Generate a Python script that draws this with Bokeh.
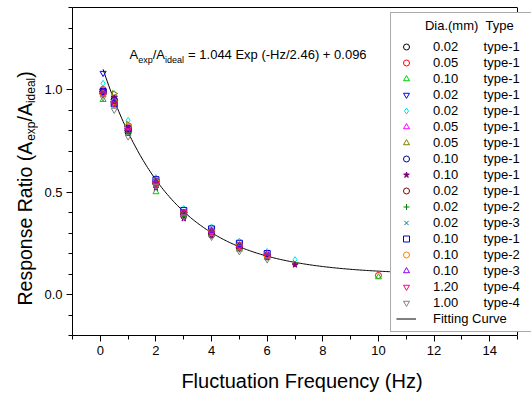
import math
import numpy as np
from bokeh.plotting import figure
from bokeh.layouts import row
from bokeh.models import (Range1d, FixedTicker, PrintfTickFormatter, Label,
                          Legend, LegendItem, LinearAxis, Span)
from bokeh.embed import file_html
from bokeh.resources import INLINE

# ---------------- data ----------------
freq = [0.1, 0.5, 1, 2, 3, 4, 5, 6]

dia = ["0.02", "0.05", "0.10", "0.02", "0.02", "0.05", "0.05", "0.10", "0.10",
       "0.02", "0.02", "0.02", "0.10", "0.10", "0.10", "1.20", "1.00"]
kind = ["type-1", "type-1", "type-1", "type-1", "type-1", "type-1", "type-1",
        "type-1", "type-1", "type-1", "type-2", "type-3", "type-1", "type-2",
        "type-3", "type-4", "type-4"]

s1_x = freq
s1_y = [0.99, 0.95, 0.79, 0.54, 0.39, 0.29, 0.23, 0.19]
s2_x = freq + [10]
s2_y = [1.00, 0.94, 0.80, 0.55, 0.40, 0.30, 0.24, 0.19, 0.093]
s3_x = freq + [10]
s3_y = [0.95, 0.93, 0.80, 0.50, 0.40, 0.30, 0.22, 0.18, 0.085]
s4_x = freq
s4_y = [1.08, 0.96, 0.81, 0.55, 0.40, 0.31, 0.24, 0.19]
s5_x = freq + [7]
s5_y = [1.03, 0.98, 0.85, 0.57, 0.42, 0.33, 0.26, 0.21, 0.17]
s6_x = freq
s6_y = [0.98, 0.94, 0.82, 0.55, 0.38, 0.30, 0.24, 0.19]
s7_x = freq + [7]
s7_y = [1.00, 0.98, 0.83, 0.56, 0.40, 0.31, 0.24, 0.19, 0.15]
s8_x = freq
s8_y = [0.99, 0.95, 0.81, 0.55, 0.40, 0.31, 0.24, 0.19]
s9_x = freq + [7]
s9_y = [0.99, 0.96, 0.81, 0.52, 0.37, 0.29, 0.23, 0.18, 0.145]
s10_x = freq
s10_y = [0.98, 0.94, 0.80, 0.54, 0.39, 0.30, 0.23, 0.19]
s11_x = freq
s11_y = [0.97, 0.93, 0.79, 0.53, 0.38, 0.29, 0.22, 0.18]
s12_x = freq
s12_y = [0.99, 0.95, 0.80, 0.55, 0.40, 0.31, 0.24, 0.19]
s13_x = freq
s13_y = [0.99, 0.93, 0.81, 0.56, 0.41, 0.32, 0.25, 0.20]
s14_x = freq
s14_y = [0.98, 0.94, 0.82, 0.55, 0.40, 0.31, 0.24, 0.19]
s15_x = freq
s15_y = [0.99, 0.94, 0.81, 0.55, 0.40, 0.31, 0.24, 0.20]
s16_x = freq
s16_y = [0.98, 0.93, 0.80, 0.54, 0.40, 0.30, 0.23, 0.19]
s17_x = freq
s17_y = [0.96, 0.90, 0.77, 0.53, 0.38, 0.28, 0.21, 0.17]

series_x = [s1_x, s2_x, s3_x, s4_x, s5_x, s6_x, s7_x, s8_x, s9_x, s10_x,
            s11_x, s12_x, s13_x, s14_x, s15_x, s16_x, s17_x]
series_y = [s1_y, s2_y, s3_y, s4_y, s5_y, s6_y, s7_y, s8_y, s9_y, s10_y,
            s11_y, s12_y, s13_y, s14_y, s15_y, s16_y, s17_y]

# fitted curve parameters (from the chart's equation)
fit_a, fit_tau, fit_c = 1.044, 2.46, 0.096

x_min, x_max = -1, 15
y_min, y_max = -0.2, 1.4
x_ticks = [0, 2, 4, 6, 8, 10, 12, 14]
x_minor = [-1, 1, 3, 5, 7, 9, 11, 13, 15]
y_ticks = [0.0, 0.5, 1.0]
y_minor = [-0.2, -0.1, 0.1, 0.2, 0.3, 0.4, 0.6, 0.7, 0.8, 0.9, 1.1, 1.2, 1.3, 1.4]

# ---------------- styles / layout ----------------
colors = ["#000000", "#ff0000", "#00cc00", "#0000ff", "#00e5e5", "#ff00ff",
          "#808000", "#000080", "#800080", "#800000", "#008000", "#008080",
          "#0000cc", "#ff8000", "#8000ff", "#ff0080", "#808080"]
markers = ["circle", "circle", "triangle", "inverted_triangle", "diamond",
           "triangle", "triangle", "circle", "star", "circle", "cross", "x",
           "square", "circle", "triangle", "inverted_triangle", "inverted_triangle"]
angles = [0, 0, 0, 0, 0, math.pi / 2, -math.pi / 2, 0, 0, 0, 0, 0, 0, 0, 0, 0, 0]
filled = [False] * 8 + [True] + [False] * 8

FONT = "Liberation Sans"
NB = "\u00a0"
LABEL_W = 38
MID = 0.3465  # baseline offset from text-box middle, in em (Liberation Sans)

AXES_W = 445          # pixel width of the -1..15 box
EXTRA_R = 14          # room to the right of the box, where the legend runs on
px_per_x = AXES_W / (x_max - x_min)
x_view_max = x_max + EXTRA_R / px_per_x

p = figure(frame_width=AXES_W + EXTRA_R, frame_height=328, output_backend="svg",
           toolbar_location=None, x_range=Range1d(x_min, x_view_max),
           y_range=Range1d(y_min, y_max),
           min_border_left=72 - LABEL_W, min_border_right=0, min_border_top=7,
           min_border_bottom=59)
p.xgrid.visible = False
p.ygrid.visible = False
p.outline_line_color = None
p.background_fill_color = "white"
p.border_fill_color = "white"

for ax in (p.xaxis[0], p.yaxis[0]):
    ax.axis_line_color = "black"
    ax.major_tick_line_color = "black"
    ax.minor_tick_line_color = "black"
    ax.major_tick_in = 0
    ax.major_tick_out = 6
    ax.minor_tick_in = 0
    ax.minor_tick_out = 4
    ax.major_label_text_font = FONT
    ax.major_label_text_font_size = "13px"
    ax.major_label_text_color = "black"
    ax.major_label_standoff = 4

p.xaxis.bounds = (x_min, x_max)
p.yaxis.axis_label_standoff = 0
p.xaxis.ticker = FixedTicker(ticks=x_ticks, minor_ticks=x_minor)
p.yaxis.ticker = FixedTicker(ticks=y_ticks, minor_ticks=y_minor)
p.yaxis.formatter = PrintfTickFormatter(format="%.1f")
p.xaxis.axis_label = "Fluctuation Frequency (Hz)"
p.xaxis.axis_label_text_font = FONT
p.xaxis.axis_label_text_font_size = "20px"
p.xaxis.axis_label_text_font_style = "normal"
p.xaxis.axis_label_text_color = "black"
p.xaxis.axis_label_standoff = 12

# top and right borders of the box
top_axis = LinearAxis(bounds=(x_min, x_max), ticker=FixedTicker(ticks=[], minor_ticks=[]),
                      major_tick_out=0, major_tick_in=0, minor_tick_out=0, minor_tick_in=0,
                      major_label_standoff=0, axis_line_color="black")
p.add_layout(top_axis, "above")
p.add_layout(Span(location=x_max, dimension="height", line_color="black", line_width=1))

# fitting curve
xc = np.linspace(0.1, x_view_max, 300)
yc = fit_a * np.exp(-xc / fit_tau) + fit_c
curve = p.line(xc, yc, line_color="black", line_width=1)

items = []
for i in range(len(series_x)):
    r = p.scatter(series_x[i], series_y[i], marker=markers[i], size=6,
                  angle=angles[i], line_color=colors[i], line_width=1,
                  fill_color=colors[i] if filled[i] else None)
    label = dia[i] + NB * 7 + kind[i] + NB * 3
    items.append(LegendItem(label=label, renderers=[r]))
items.append(LegendItem(label="Fitting Curve", renderers=[curve]))

legend = Legend(items=items, location=(318, 3),
                title=NB * 8 + "Dia.(mm)" + NB * 2 + "Type",
                title_text_font=FONT, title_text_font_size="13px",
                title_text_font_style="normal", title_text_color="black",
                title_standoff=6,
                label_text_font=FONT, label_text_font_size="13px",
                label_text_color="black", label_standoff=17,
                glyph_width=20, glyph_height=15, label_height=15, spacing=1,
                padding=5, margin=0,
                border_line_color="#555555", border_line_width=1,
                background_fill_color="white", background_fill_alpha=1.0)
p.add_layout(legend)


def lab(fig, txt, x, y, size, angle=0.0):
    fig.add_layout(Label(x=x, y=y, x_units="screen", y_units="screen", text=txt,
                         text_font=FONT, text_font_size="%gpx" % size,
                         text_color="black", text_baseline="middle",
                         text_align="left", angle=angle))


# equation annotation (screen units relative to the frame)
ex = 57
eb = 276
lab(p, "A", ex, eb + MID * 13, 13)
lab(p, "exp", ex + 8.7, eb - 4 + MID * 9, 9)
lab(p, "/A", ex + 23.2, eb + MID * 13, 13)
lab(p, "ideal", ex + 35.5, eb - 4 + MID * 9, 9)
lab(p, "= 1.044 Exp (-Hz/2.46) + 0.096", ex + 58.6, eb + MID * 13, 13)

# y axis title with subscripts, in a narrow side figure
q = figure(width=LABEL_W, height=394, output_backend="svg", toolbar_location=None,
           x_range=Range1d(0, 1), y_range=Range1d(0, 1),
           x_axis_type=None, y_axis_type=None, min_border=0, title=None)
q.xgrid.visible = False
q.ygrid.visible = False
q.outline_line_color = None
q.background_fill_color = "white"
q.border_fill_color = "white"

A90 = math.pi / 2
yb = 31      # baseline of the main title text (px from left)
yy = 30      # start of the title (px above the frame bottom)
lab(q, "Response Ratio (A", yb - MID * 19.5, yy, 19.5, A90)
lab(q, "exp", yb + 4 - MID * 12, yy + 164.7, 12, A90)
lab(q, "/A", yb - MID * 19.5, yy + 184.0, 19.5, A90)
lab(q, "ideal", yb + 4 - MID * 12, yy + 202.4, 12, A90)
lab(q, ")", yb - MID * 19.5, yy + 227.7, 19.5, A90)

layout = row(q, p, spacing=0)
open("out.html", "w").write(file_html(layout, INLINE))
